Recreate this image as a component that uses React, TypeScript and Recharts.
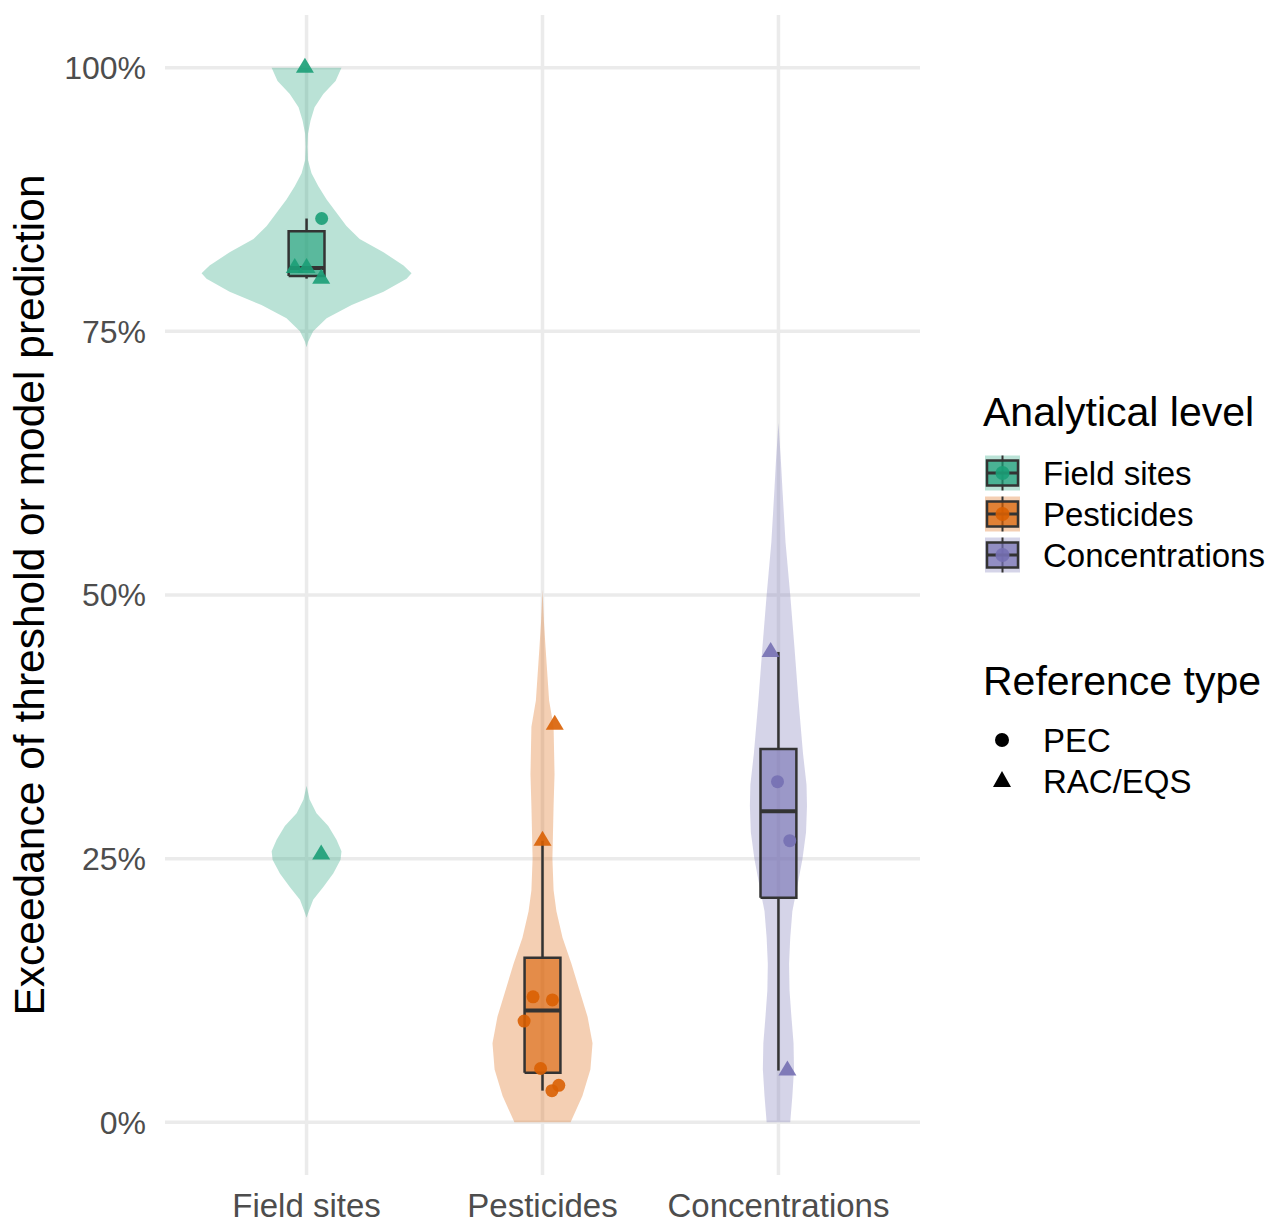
import React from "react";
import { ScatterChart, Scatter, XAxis, YAxis, CartesianGrid } from "recharts";

const categories = ["Field sites", "Pesticides", "Concentrations"];
const groupColors = ["#1B9E77", "#D95F02", "#7570B3"];
const yTicks = [0, 25, 50, 75, 100];
const yMinorTicks = [12.5, 37.5, 62.5, 87.5];

// violin profiles, top to bottom: [value %, half width in category units]
const fieldViolin: [number, number][] = [
  [100, 0.148], [98.75, 0.123], [97.5, 0.071], [96.25, 0.034], [95, 0.017],
  [93.75, 0.006], [92.5, 0.004], [91.25, 0.006], [90, 0.021], [88.75, 0.05],
  [87.5, 0.085], [86.25, 0.127], [85, 0.169], [83.75, 0.225], [82.5, 0.326],
  [81.25, 0.411], [80.5, 0.445], [80, 0.424], [78.75, 0.326], [77.5, 0.191],
  [76.25, 0.085], [75, 0.028], [74, 0.006], [73.5, 0],
  [31.9, 0], [30.6, 0.013], [29.3, 0.042], [28.1, 0.092], [26.8, 0.127],
  [25.7, 0.148], [24.9, 0.144], [23.6, 0.113], [22.3, 0.071], [21.1, 0.028],
  [19.8, 0.006], [19.4, 0],
];
const pesticideViolin: [number, number][] = [
  [50.5, 0], [47.5, 0.006], [45, 0.013], [40, 0.028], [37.5, 0.047],
  [33, 0.051], [30, 0.047], [27, 0.044], [25, 0.042], [22, 0.047],
  [20, 0.059], [17.5, 0.085], [15, 0.123], [12.5, 0.157], [10, 0.191],
  [7.5, 0.212], [5, 0.203], [2.5, 0.169], [0, 0.119],
];
const concentrationViolin: [number, number][] = [
  [66.3, 0], [62.5, 0.011], [60, 0.017], [55, 0.03], [50, 0.05],
  [45, 0.068], [40, 0.085], [35, 0.104], [32, 0.119], [30, 0.121],
  [27.5, 0.117], [25, 0.102], [22.5, 0.081], [20, 0.059], [17.5, 0.05],
  [15, 0.045], [12.5, 0.047], [10, 0.055], [7.5, 0.064], [5, 0.066],
  [2.5, 0.059], [0, 0.05],
];
const violins = [fieldViolin, pesticideViolin, concentrationViolin];

// box stats: [lower whisker, q1, median, q3, upper whisker]
const boxStats = [
  [80.0, 80.25, 81.0, 84.5, 85.7],
  [3.0, 4.7, 10.6, 15.6, 26.7],
  [4.9, 21.3, 29.5, 35.4, 44.6],
];

// observations
const fieldValues = [100, 85.7, 81.0, 81.0, 80.0, 25.4];
const fieldRefs = ["RAC/EQS", "PEC", "RAC/EQS", "RAC/EQS", "RAC/EQS", "RAC/EQS"];
const fieldJitter = [-0.007, 0.064, -0.05, 0, 0.062, 0.062];

const pesticideValues = [37.7, 26.7, 11.9, 11.6, 9.6, 5.1, 3.0, 3.5];
const pesticideRefs = ["RAC/EQS", "RAC/EQS", "PEC", "PEC", "PEC", "PEC", "PEC", "PEC"];
const pesticideJitter = [0.052, 0, -0.04, 0.042, -0.078, -0.008, 0.04, 0.069];

const concentrationValues = [44.6, 32.3, 26.7, 4.9];
const concentrationRefs = ["RAC/EQS", "PEC", "PEC", "RAC/EQS"];
const concentrationJitter = [-0.033, -0.004, 0.048, 0.038];

const groupValues = [fieldValues, pesticideValues, concentrationValues];
const groupRefs = [fieldRefs, pesticideRefs, concentrationRefs];
const groupJitter = [fieldJitter, pesticideJitter, concentrationJitter];

const FONT = "'Liberation Sans', Arial, Helvetica, sans-serif";
const BOX_HALF = 0.076;
const INK = "#333333";

function violinOutline(profile: [number, number][], center: number) {
  const right = profile.map(([v, w]) => ({ x: center + w, y: v }));
  const left = [...profile].reverse().map(([v, w]) => ({ x: center - w, y: v }));
  return [...right, ...left];
}

function boxOutline(i: number) {
  const c = i + 1;
  const [, q1, , q3] = boxStats[i];
  return [
    { x: c - BOX_HALF, y: q1 },
    { x: c + BOX_HALF, y: q1 },
    { x: c + BOX_HALF, y: q3 },
    { x: c - BOX_HALF, y: q3 },
    { x: c - BOX_HALF, y: q1 },
  ];
}

function groupPoints(i: number) {
  return groupValues[i].map((v, j) => ({
    x: i + 1 + groupJitter[i][j],
    y: v,
    ref: groupRefs[i][j],
  }));
}

const noShape = () => <g />;

function PointShape(props: any) {
  const { cx, cy, payload, color } = props;
  if (cx == null || cy == null) return null;
  if (payload.ref === "PEC") {
    return <circle cx={cx} cy={cy} r={6.5} fill={color} fillOpacity={0.9} />;
  }
  const h = 15;
  const w = 18;
  return (
    <polygon
      points={`${cx},${cy - (h * 2) / 3} ${cx + w / 2},${cy + h / 3} ${cx - w / 2},${cy + h / 3}`}
      fill={color}
      fillOpacity={0.9}
    />
  );
}

function LegendKey({ x, y, color }: { x: number; y: number; color: string }) {
  return (
    <g>
      <rect x={x} y={y} width={35} height={35} fill={color} fillOpacity={0.3} />
      <line x1={x + 17.5} x2={x + 17.5} y1={y} y2={y + 35} stroke={INK} strokeWidth={2} />
      <rect x={x + 2} y={y + 5} width={31} height={25} fill={color} fillOpacity={0.7} stroke={INK} strokeWidth={2.5} />
      <line x1={x + 2} x2={x + 33} y1={y + 17.5} y2={y + 17.5} stroke={INK} strokeWidth={3} />
      <circle cx={x + 17.5} cy={y + 17.5} r={7} fill={color} fillOpacity={0.9} />
    </g>
  );
}

export default function App() {
  return (
    <div
      style={{
        position: "absolute",
        left: 0,
        top: 0,
        width: 1268,
        height: 1223,
        background: "#ffffff",
        fontFamily: FONT,
      }}
    >
      <ScatterChart
        width={1268}
        height={1223}
        margin={{ top: 15, right: 348, bottom: 0, left: 0 }}
      >
        <CartesianGrid
          yAxisId="minor"
          vertical={false}
          syncWithTicks
          stroke="#ebebeb"
          strokeWidth={2}
        />
        <CartesianGrid syncWithTicks stroke="#ebebeb" strokeWidth={3.5} />
        <XAxis
          type="number"
          dataKey="x"
          domain={[0.4, 3.6]}
          ticks={[1, 2, 3]}
          interval={0}
          allowDataOverflow
          tickFormatter={(v: number) => categories[v - 1]}
          axisLine={false}
          tickLine={false}
          tickSize={0}
          tickMargin={19}
          height={48}
          tick={{ fontSize: 33, fill: "#4d4d4d", fontFamily: FONT }}
        />
        <YAxis
          type="number"
          dataKey="y"
          domain={[-5, 105]}
          ticks={yTicks}
          interval={0}
          allowDataOverflow
          tickFormatter={(v: number) => `${v}%`}
          axisLine={false}
          tickLine={false}
          tickSize={0}
          tickMargin={19}
          width={165}
          tick={{ fontSize: 32, fill: "#4d4d4d", fontFamily: FONT }}
        />
        <YAxis
          yAxisId="minor"
          type="number"
          domain={[-5, 105]}
          ticks={yMinorTicks}
          interval={0}
          hide
        />

        {violins.map((profile, i) => (
          <Scatter
            key={`violin-${i}`}
            data={violinOutline(profile, i + 1)}
            shape={noShape}
            line={{ fill: groupColors[i], fillOpacity: 0.3, stroke: "none" }}
            isAnimationActive={false}
          />
        ))}

        {boxStats.map((s, i) => (
          <Scatter
            key={`wlo-${i}`}
            data={[{ x: i + 1, y: s[0] }, { x: i + 1, y: s[1] }]}
            shape={noShape}
            line={{ stroke: INK, strokeWidth: 2.5, fill: "none" }}
            isAnimationActive={false}
          />
        ))}
        {boxStats.map((s, i) => (
          <Scatter
            key={`whi-${i}`}
            data={[{ x: i + 1, y: s[3] }, { x: i + 1, y: s[4] }]}
            shape={noShape}
            line={{ stroke: INK, strokeWidth: 2.5, fill: "none" }}
            isAnimationActive={false}
          />
        ))}
        {boxStats.map((_, i) => (
          <Scatter
            key={`box-${i}`}
            data={boxOutline(i)}
            shape={noShape}
            line={{ fill: groupColors[i], fillOpacity: 0.6, stroke: INK, strokeWidth: 2.5 }}
            isAnimationActive={false}
          />
        ))}
        {boxStats.map((s, i) => (
          <Scatter
            key={`med-${i}`}
            data={[{ x: i + 1 - BOX_HALF, y: s[2] }, { x: i + 1 + BOX_HALF, y: s[2] }]}
            shape={noShape}
            line={{ stroke: INK, strokeWidth: 4, fill: "none" }}
            isAnimationActive={false}
          />
        ))}

        {categories.map((_, i) => (
          <Scatter
            key={`pts-${i}`}
            data={groupPoints(i)}
            shape={(p: any) => <PointShape {...p} color={groupColors[i]} />}
            isAnimationActive={false}
          />
        ))}
      </ScatterChart>

      <svg
        width={1268}
        height={1223}
        style={{ position: "absolute", left: 0, top: 0, pointerEvents: "none" }}
        fontFamily={FONT}
      >
        <text
          transform="translate(44, 595) rotate(-90)"
          textAnchor="middle"
          fontSize={42.5}
          fill="#000"
        >
          Exceedance of threshold or model prediction
        </text>

        <text x={983} y={426} fontSize={41} fill="#000">
          Analytical level
        </text>
        {categories.map((c, i) => (
          <g key={c}>
            <LegendKey x={985} y={455.5 + i * 41} color={groupColors[i]} />
            <text x={1043} y={485 + i * 41} fontSize={33} fill="#000">
              {c}
            </text>
          </g>
        ))}

        <text x={983} y={695} fontSize={41} fill="#000">
          Reference type
        </text>
        <circle cx={1002} cy={740} r={7} fill="#000" />
        <text x={1043} y={752} fontSize={33} fill="#000">
          PEC
        </text>
        <polygon points="1002,771 1011,787 993,787" fill="#000" />
        <text x={1043} y={793} fontSize={33} fill="#000">
          RAC/EQS
        </text>
      </svg>
    </div>
  );
}
